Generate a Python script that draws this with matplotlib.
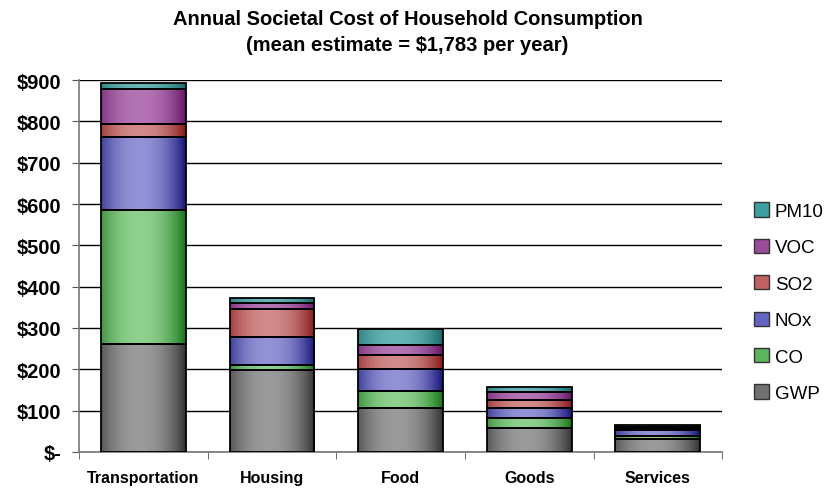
import numpy as np
import matplotlib
matplotlib.use("Agg")
import matplotlib.pyplot as plt
from matplotlib.colors import LinearSegmentedColormap, to_rgb
from matplotlib.patches import Patch

plt.rcParams['font.family'] = ['Liberation Sans', 'DejaVu Sans']

categories = ['Transportation', 'Housing', 'Food', 'Goods', 'Services']
gwp  = [261, 198, 106, 58, 31]
co   = [325, 13, 42, 25, 8]
nox  = [177, 68, 52, 23, 14]
so2  = [32, 67, 35, 20, 3]
voc  = [83, 14, 24, 20, 4]
pm10 = [15, 12, 39, 11, 5]

series = [('GWP', gwp), ('CO', co), ('NOx', nox), ('SO2', so2), ('VOC', voc), ('PM10', pm10)]
# (edge colour, centre colour, legend colour)
colors = {
    'GWP':  ('#333333', '#9a9a9a', '#707070'),
    'CO':   ('#157515', '#8fd08f', '#5cb45c'),
    'NOx':  ('#14147a', '#9292d6', '#6464c4'),
    'SO2':  ('#861616', '#d28a8a', '#c06262'),
    'VOC':  ('#661466', '#b474b4', '#9a4c9a'),
    'PM10': ('#146a6a', '#66b4b4', '#3aa0a0'),
}
yticks = [0, 100, 200, 300, 400, 500, 600, 700, 800, 900]
ylabels = ['$-', '$100', '$200', '$300', '$400', '$500', '$600', '$700', '$800', '$900']

fig = plt.figure(figsize=(8.32, 4.89), dpi=100)
ax = fig.add_axes([0.095, 0.074, 0.773, 0.76])

x = np.arange(len(categories))
width = 0.66
t = np.linspace(0, 1, 200)
profile = np.clip(1 - np.abs((t - 0.45) / 0.55) ** 2.2, 0, 1)[None, :]

bottom = np.zeros(len(categories))
for name, vals in series:
    edge, centre, _ = colors[name]
    cmap = LinearSegmentedColormap.from_list(name, [to_rgb(edge), to_rgb(centre)])
    bars = ax.bar(x, vals, width, bottom=bottom, facecolor='none',
                  edgecolor='black', linewidth=1.3, zorder=3)
    for rect in bars:
        x0, y0 = rect.get_x(), rect.get_y()
        im = ax.imshow(profile, cmap=cmap, vmin=0, vmax=1, aspect='auto',
                       extent=(x0, x0 + rect.get_width(), y0, y0 + rect.get_height()),
                       zorder=2, interpolation='bilinear')
        im.set_clip_path(rect)
    bottom += np.array(vals)

ax.set_xlim(-0.5, len(categories) - 0.5)
ax.set_ylim(0, 900)
ax.set_yticks(yticks)
ax.set_yticklabels(ylabels, fontsize=14.5, fontweight='bold')
ax.set_xticks(x)
ax.set_xticklabels(categories, fontsize=11.5, fontweight='bold')
ax.set_xticks(np.arange(len(categories) + 1) - 0.5, minor=True)
ax.tick_params(axis='x', which='major', length=0, pad=13)
ax.tick_params(axis='x', which='minor', length=5, color='#555555')
ax.tick_params(axis='y', length=5, color='#555555', pad=8)
ax.yaxis.grid(True, color='black', linewidth=1.0, zorder=0)
ax.set_axisbelow(True)
for s in ['top', 'right']:
    ax.spines[s].set_visible(False)
for s in ['left', 'bottom']:
    ax.spines[s].set_color('#777777')
    ax.spines[s].set_linewidth(1.2)

handles = [Patch(facecolor=colors[n][2], edgecolor='#333333', label=n) for n, _ in reversed(series)]
fig.legend(handles=handles, loc='center left', bbox_to_anchor=(0.886, 0.38),
           frameon=False, fontsize=13.5, handlelength=0.8, handleheight=0.8,
           handletextpad=0.3, labelspacing=1.0)

fig.suptitle('Annual Societal Cost of Household Consumption\n(mean estimate = $1,783 per year)',
             fontsize=14.5, fontweight='bold', y=0.98, x=0.49, linespacing=1.5)

fig.savefig('out.png', dpi=100)
